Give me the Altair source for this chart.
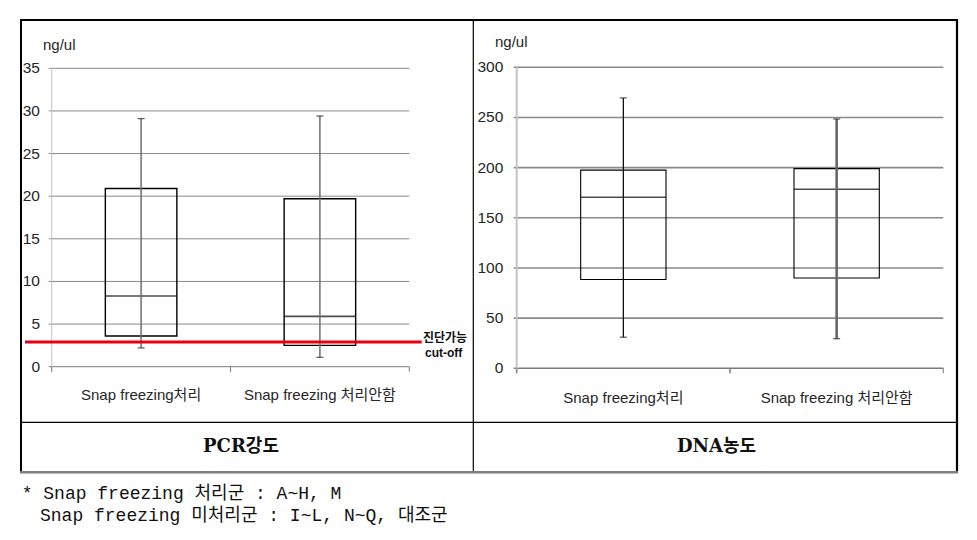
import altair as alt
import pandas as pd

# ---------------- data ----------------
groups = ["Snap freezing처리", "Snap freezing 처리안함"]

pcr_min = [2.2, 1.1]
pcr_q1 = [3.6, 2.5]
pcr_median = [8.3, 5.9]
pcr_q3 = [20.9, 19.7]
pcr_max = [29.1, 29.4]
pcr_ticks = [0, 5, 10, 15, 20, 25, 30, 35]
pcr_cutoff = 2.9

dna_min = [31.0, 29.5]
dna_q1 = [88.5, 90.0]
dna_median = [170.5, 178.5]
dna_q3 = [197.5, 199.0]
dna_max = [269.5, 248.5]
dna_ticks = [0, 50, 100, 150, 200, 250, 300]

unit_label = "ng/ul"
panel_captions = ["PCR강도", "DNA농도"]
cutoff_labels = ["진단가능", "cut-off"]
footnotes = ["* Snap freezing 처리군 : A~H, M",
             "Snap freezing 미처리군 : I~L, N~Q, 대조군"]

SANS = "Liberation Sans Narrow, Liberation Sans, Noto Sans CJK KR, sans-serif"
SERIF = "DejaVu Serif, Noto Sans CJK KR, serif"
MONO = "Liberation Mono, Noto Sans CJK KR, monospace"

W, H = 961, 522


def panel(mins, q1s, meds, q3s, maxs, ticks, x0, x1, ytop, ybot, tick_x,
          unit_x, unit_y, cat_y, grid_w, yaxis_w, box_w, whisk_cols, whisk_ws):
    box_df = pd.DataFrame({"group": groups, "lo": mins, "q1": q1s,
                           "med": meds, "q3": q3s, "hi": maxs})
    tick_df = pd.DataFrame({"v": ticks, "label": [str(t) for t in ticks]})
    xs = alt.Scale(type="band", domain=groups, range=[x0, x1],
                   paddingInner=0, paddingOuter=0)
    ys = alt.Scale(domain=[0, max(ticks)], range=[ybot, ytop], nice=False)
    X = alt.X("group:N", scale=xs, axis=None)

    def Y(f):
        return alt.Y(f"{f}:Q", scale=ys, axis=None)

    band_px = (x1 - x0) / len(groups)

    grid = alt.Chart(tick_df).mark_rule(strokeWidth=grid_w).encode(
        y=Y("v"), x=alt.value(x0 - 3), x2=alt.value(x1),
        color=alt.condition("datum.v == 0", alt.value("#7a7a7a"), alt.value("#8a8a8a")),
    )
    yline = alt.Chart(tick_df).mark_rule(color="#c4c4c4", strokeWidth=yaxis_w, y2Offset=5).encode(
        x=alt.value(x0), y=alt.Y("max(v):Q", scale=ys, axis=None), y2="min(v):Q"
    )
    cat_tick_a = alt.Chart(box_df).mark_rule(color="#7a7a7a", strokeWidth=1, y2Offset=5).encode(
        x=alt.X("group:N", scale=xs, axis=None, bandPosition=0),
        y=alt.Y(datum=0, type="quantitative", scale=ys, axis=None), y2=alt.datum(0)
    )
    cat_tick_b = alt.Chart(box_df).mark_rule(color="#7a7a7a", strokeWidth=1, y2Offset=5).encode(
        x=alt.X("group:N", scale=xs, axis=None, bandPosition=1),
        y=alt.Y(datum=0, type="quantitative", scale=ys, axis=None), y2=alt.datum(0)
    )
    box = alt.Chart(box_df).mark_bar(fill="white", fillOpacity=0, stroke="black",
                                     strokeWidth=box_w, width={"band": 0.4}).encode(
        x=X, y=Y("q1"), y2="q3"
    )
    median = alt.Chart(box_df).mark_tick(color="black", thickness=1.6, size=0.4 * band_px,
                                         orient="horizontal").encode(x=X, y=Y("med"))
    whisker = alt.Chart(box_df).mark_rule().encode(
        x=X, y=Y("lo"), y2="hi",
        color=alt.condition(alt.datum.group == groups[0], alt.value(whisk_cols[0]), alt.value(whisk_cols[1])),
        strokeWidth=alt.condition(alt.datum.group == groups[0], alt.value(whisk_ws[0]), alt.value(whisk_ws[1])),
    )
    cap_lo = alt.Chart(box_df).mark_tick(color="#222", thickness=1.3, size=7,
                                         orient="horizontal").encode(x=X, y=Y("lo"))
    cap_hi = alt.Chart(box_df).mark_tick(color="#222", thickness=1.3, size=7,
                                         orient="horizontal").encode(x=X, y=Y("hi"))
    tick_labels = alt.Chart(tick_df).mark_text(align="right", baseline="middle", font=SANS,
                                               fontSize=15.5, color="#262626").encode(
        y=Y("v"), x=alt.value(tick_x), text="label:N"
    )
    unit = alt.Chart(pd.DataFrame({"t": [unit_label]})).mark_text(
        align="left", baseline="middle", font=SANS, fontSize=15, color="#262626").encode(
        x=alt.value(unit_x), y=alt.value(unit_y), text="t:N"
    )
    cat_labels = alt.Chart(box_df).mark_text(baseline="middle", font=SANS, fontSize=15,
                                             color="#262626").encode(
        x=X, y=alt.value(cat_y), text="group:N"
    )
    layers = [grid, yline, cat_tick_a, cat_tick_b, box, median, whisker, cap_lo, cap_hi,
              tick_labels, unit, cat_labels]
    return layers, Y


p1_layers, Y1 = panel(pcr_min, pcr_q1, pcr_median, pcr_q3, pcr_max, pcr_ticks,
                      x0=43.7, x1=401.3, ytop=60.3, ybot=358.7, tick_x=32,
                      unit_x=35, unit_y=37, cat_y=387, grid_w=1, yaxis_w=1, box_w=1.4,
                      whisk_cols=["#6e6e6e", "#6e6e6e"], whisk_ws=[1.5, 1.5])

cut_df = pd.DataFrame({"c": [pcr_cutoff]})
cut_rule = alt.Chart(cut_df).mark_rule(color="#e60012", strokeWidth=3).encode(
    y=Y1("c"), x=alt.value(17), x2=alt.value(413.7)
)
cut_t1 = alt.Chart(pd.DataFrame({"c": [pcr_cutoff], "t": [cutoff_labels[0]]})).mark_text(
    align="left", baseline="middle", font=SANS, fontSize=12, fontWeight="bold", dy=-4,
    color="#111").encode(y=Y1("c"), x=alt.value(415), text="t:N")
cut_t2 = alt.Chart(pd.DataFrame({"c": [pcr_cutoff], "t": [cutoff_labels[1]]})).mark_text(
    align="left", baseline="middle", font=SANS, fontSize=12, fontWeight="bold", dy=11,
    color="#111").encode(y=Y1("c"), x=alt.value(417), text="t:N")

panel1 = alt.layer(*p1_layers, cut_rule, cut_t1, cut_t2)

p2_layers, Y2 = panel(dna_min, dna_q1, dna_median, dna_q3, dna_max, dna_ticks,
                      x0=508.7, x1=935.3, ytop=59.3, ybot=360.3, tick_x=495.3,
                      unit_x=487, unit_y=34, cat_y=390, grid_w=1.6, yaxis_w=2, box_w=1.1,
                      whisk_cols=["#111111", "#666666"], whisk_ws=[1.3, 2.6])
panel2 = alt.layer(*p2_layers)

one = pd.DataFrame({"a": [0]})


def hline(y, xa, xb, color="black", w=1.0):
    return alt.Chart(one).mark_rule(color=color, strokeWidth=w).encode(
        x=alt.value(xa), x2=alt.value(xb), y=alt.value(y))


def vline(x, ya, yb, color="black", w=1.0):
    return alt.Chart(one).mark_rule(color=color, strokeWidth=w).encode(
        x=alt.value(x), y=alt.value(ya), y2=alt.value(yb))


borders = [
    hline(12, 12, 950, w=2.2),
    vline(13, 11, 465, w=2),
    vline(949, 11, 465, w=2.2),
    vline(465.3, 12, 464, w=1.2),
    hline(414.3, 13, 949, w=1.2),
    hline(464.3, 12, 950, color="#7f7f7f", w=2.5),
]


def text_at(t, x, y, size, font, align="left", weight="normal", baseline="alphabetic"):
    return alt.Chart(pd.DataFrame({"t": [t]})).mark_text(
        align=align, baseline=baseline, font=font, fontSize=size, fontWeight=weight,
        color="#111").encode(x=alt.value(x), y=alt.value(y), text="t:N")


captions = [
    text_at(panel_captions[0], 233, 439, 18, SERIF, align="center", weight="bold", baseline="middle"),
    text_at(panel_captions[1], 708.5, 439, 18, SERIF, align="center", weight="bold", baseline="middle"),
]
notes = [
    text_at(footnotes[0], 13.7, 490.7, 18, MONO),
    text_at(footnotes[1], 32, 512.7, 18, MONO),
]

chart = alt.layer(panel1, panel2, *borders, *captions, *notes).resolve_scale(
    x="independent", y="independent", color="independent", strokeWidth="independent"
).properties(width=W, height=H, autosize="none", padding=0).configure_view(strokeWidth=0)

chart.save("out.html", embed_options={"renderer": "svg", "actions": False})
